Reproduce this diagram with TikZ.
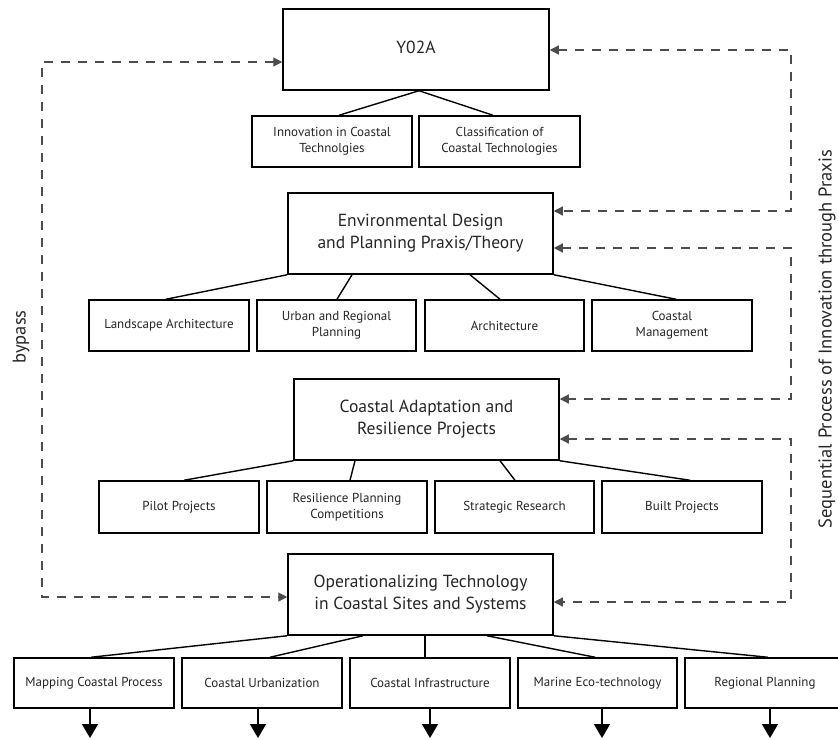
\documentclass[tikz,border=0pt]{standalone}
\usepackage{fontspec}
\setmainfont{PT Sans}
\usetikzlibrary{arrows.meta,calc}
\begin{document}
\begin{tikzpicture}[x=1pt,y=-1pt,
  bigbox/.style={draw=black,line width=1.5pt,minimum width=265pt,minimum height=81pt,inner sep=0pt,align=center,font=\fontsize{17.5}{22}\selectfont,text=black!85},
  smallbox/.style={draw=black,line width=1.5pt,minimum width=160pt,minimum height=51pt,inner sep=0pt,align=center,font=\fontsize{13}{16}\selectfont,text=black!85},
  link/.style={line width=1.4pt},
  dasharr/.style={draw=black!70,line width=1.2pt,dash pattern=on 9pt off 8pt,{Triangle[length=9pt,width=9pt]}-{Triangle[length=9pt,width=9pt]}},
  downarr/.style={line width=1.4pt,-{Triangle[length=14pt,width=16pt]}},
  sidelabel/.style={rotate=90,font=\fontsize{18.5}{22}\selectfont,text=black!85}]
\clip (0,0) rectangle (838,739);
\fill[white] (0,0) rectangle (838,739);
% main boxes
\node[bigbox,minimum width=266pt] (y02a) at (416,49.5) {\raisebox{5pt}{Y02A}};
\node[bigbox] (env) at (420.5,233.5) {Environmental Design\\and Planning Praxis/Theory};
\node[bigbox] (adapt) at (426.5,419.5) {Coastal Adaptation and\\Resilience Projects};
\node[bigbox] (op) at (420.5,594.5) {Operationalizing Technology\\in Coastal Sites and Systems};
% row 1
\node[smallbox] (inn) at (332,141.5) {Innovation in Coastal\\Technolgies};
\node[smallbox,minimum width=161pt] (cls) at (499.5,141.5) {Classification of\\Coastal Technologies};
% row 2
\node[smallbox] (land) at (169,325.5) {Landscape Architecture};
\node[smallbox,minimum width=159pt] (urb) at (336.5,325.5) {Urban and Regional\\Planning};
\node[smallbox,minimum width=159pt] (arch) at (504.5,325.5) {Architecture};
\node[smallbox] (cm) at (672,325.5) {Coastal\\Management};
% row 3
\node[smallbox,minimum height=52pt] (pilot) at (179,507) {Pilot Projects};
\node[smallbox,minimum height=52pt] (res) at (347,507) {Resilience Planning\\Competitions};
\node[smallbox,minimum height=52pt,minimum width=159pt] (strat) at (514.5,507) {Strategic Research};
\node[smallbox,minimum height=52pt] (built) at (682,507) {Built Projects};
% row 4
\node[smallbox,minimum height=50pt] (map) at (94,683) {Mapping Coastal Process};
\node[smallbox,minimum height=50pt] (urbz) at (262,683) {Coastal Urbanization};
\node[smallbox,minimum height=50pt] (infra) at (430,683) {Coastal Infrastructure};
\node[smallbox,minimum height=50pt,minimum width=159pt] (marine) at (597.5,683) {Marine Eco-technology};
\node[smallbox,minimum height=50pt] (reg) at (765,683) {Regional Planning};
% tree links
\draw[link] ([xshift=3pt]y02a.south) -- ([xshift=7pt]inn.north);
\draw[link] ([xshift=3pt]y02a.south) -- ([xshift=-6.5pt]cls.north);
\draw[link] (env.south west) -- ([xshift=-3pt]land.north);
\draw[link] ([xshift=-68.5pt]env.south) -- ([xshift=0.5pt]urb.north);
\draw[link] ([xshift=49.5pt]env.south) -- ([xshift=-4.5pt]arch.north);
\draw[link] (env.south east) -- ([xshift=4pt]cm.north);
\draw[link] (adapt.south west) -- ([xshift=5pt]pilot.north);
\draw[link] ([xshift=-71.5pt]adapt.south) -- ([xshift=3pt]res.north);
\draw[link] ([xshift=73.5pt]adapt.south) -- ([xshift=0.5pt]strat.north);
\draw[link] (adapt.south east) -- ([xshift=8pt]built.north);
\draw[link] (op.south west) -- ([xshift=-3pt]map.north);
\draw[link] ([xshift=-57.5pt]op.south) -- ([xshift=8pt]urbz.north);
\draw[link] ([xshift=4.5pt]op.south) -- ([xshift=-5pt]infra.north);
\draw[link] ([xshift=66.5pt]op.south) -- ([xshift=-2.5pt]marine.north);
\draw[link] (op.south east) -- ([xshift=3pt]reg.north);
% down arrows
\coordinate (d1) at (90,738);
\coordinate (d2) at (258,738);
\coordinate (d3) at (430,738);
\coordinate (d4) at (602,738);
\coordinate (d5) at (770,738);
\draw[downarr] (map.south -| d1) -- (d1);
\draw[downarr] (urbz.south -| d2) -- (d2);
\draw[downarr] (infra.south -| d3) -- (d3);
\draw[downarr] (marine.south -| d4) -- (d4);
\draw[downarr] (reg.south -| d5) -- (d5);
% bypass
\coordinate (b1) at (42,62);
\coordinate (b2) at (42,597);
\draw[dasharr] (y02a.west |- b1) -- (b1) -- (b2) -- (op.west |- b2);
% sequential
\coordinate (r1a) at (791,50);
\coordinate (r1b) at (791,211);
\coordinate (r2a) at (791,248);
\coordinate (r2b) at (791,399);
\coordinate (r3a) at (791,439);
\coordinate (r3b) at (791,602);
\draw[dasharr] (y02a.east |- r1a) -- (r1a) -- (r1b) -- (env.east |- r1b);
\draw[dasharr] (env.east |- r2a) -- (r2a) -- (r2b) -- (adapt.east |- r2b);
\draw[dasharr] (adapt.east |- r3a) -- (r3a) -- (r3b) -- (op.east |- r3b);
% labels
\node[sidelabel] (bypass) at (21,337) {bypass};
\node[sidelabel] (seq) at (827,339) {Sequential Process of Innovation through Praxis};
\end{tikzpicture}
\end{document}
